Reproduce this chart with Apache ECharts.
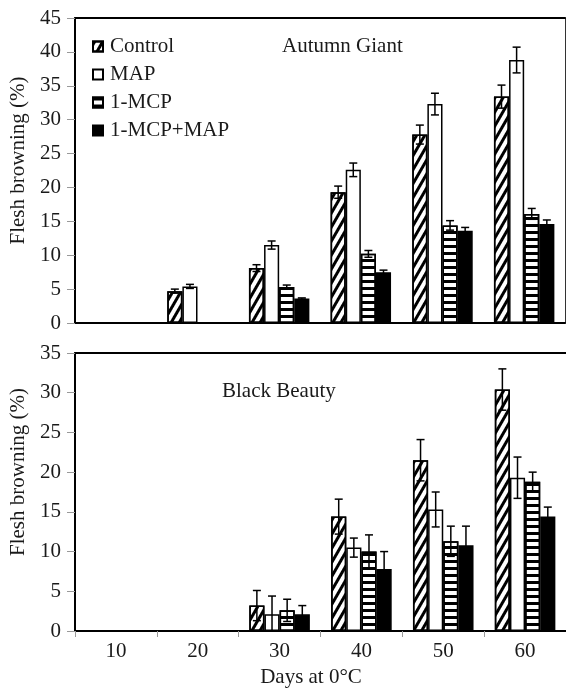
<!DOCTYPE html>
<html>
<head>
<meta charset="utf-8">
<script src="https://cdn.jsdelivr.net/npm/echarts@6/dist/echarts.min.js"></script>
<style>html,body{margin:0;padding:0;background:#fff;overflow:hidden;}#c{width:566px;height:689px;}</style>
</head>
<body>
<div id="c"></div>
<script>
// ---- data ----
const categories = ['10', '20', '30', '40', '50', '60'];
const seriesNames = ['Control', 'MAP', '1-MCP', '1-MCP+MAP'];

// Autumn Giant (top panel)
const agControl = ['-', 4.7, 8.1, 19.3, 27.8, 33.4];
const agMAP     = ['-', 5.4, 11.5, 22.6, 32.3, 38.8];
const agMCP     = ['-', '-', 5.3, 10.2, 14.4, 16.1];
const agMCPMAP  = ['-', '-', 3.6, 7.5, 13.6, 14.6];
const agControlErr = ['-', 0.3, 0.5, 0.9, 1.4, 1.7];
const agMAPErr     = ['-', 0.3, 0.6, 1.0, 1.6, 1.9];
const agMCPErr     = ['-', '-', 0.3, 0.5, 0.7, 0.8];
const agMCPMAPErr  = ['-', '-', 0.1, 0.3, 0.5, 0.6];

// Black Beauty (bottom panel)
const bbControl = ['-', '-', 3.2, 14.4, 21.5, 30.4];
const bbMAP     = ['-', '-', 2.1, 10.5, 15.3, 19.3];
const bbMCP     = ['-', '-', 2.6, 10.0, 11.3, 18.8];
const bbMCPMAP  = ['-', '-', 2.1, 7.8, 10.8, 14.4];
const bbControlErr = ['-', '-', 1.9, 2.2, 2.6, 2.6];
const bbMAPErr     = ['-', '-', 2.3, 1.2, 2.2, 2.6];
const bbMCPErr     = ['-', '-', 1.4, 2.1, 1.9, 1.2];
const bbMCPMAPErr  = ['-', '-', 1.1, 2.2, 2.4, 1.2];

const topTicks = {min: 0, max: 45, interval: 5};
const botTicks = {min: 0, max: 35, interval: 5};

// ---- styles ----
const FONT = "'Liberation Serif', 'Times New Roman', serif";
const FS = 21;
const TXT = '#1a1a1a';
const CAT_GAP = 0.26;

const styles = [
  {color: '#fff', borderColor: '#000', borderWidth: 1.5,
   decal: {symbol: 'rect', symbolSize: 1, dashArrayX: [1, 0], dashArrayY: [3, 3.5], rotation: -Math.PI / 3, color: '#000'}},
  {color: '#fff', borderColor: '#000', borderWidth: 1.5},
  {color: '#fff', borderColor: '#000', borderWidth: 1.5,
   decal: {symbol: 'rect', symbolSize: 1, dashArrayX: [1, 0], dashArrayY: [3, 4], rotation: 0, color: '#000'}},
  {color: '#000', borderColor: '#000', borderWidth: 1.5}
];

function barSeries(name, idx, data, g) {
  return {
    name: name, type: 'bar', xAxisIndex: g * 2, yAxisIndex: g * 2,
    data: data, barGap: '0%', barCategoryGap: (CAT_GAP * 100) + '%',
    itemStyle: styles[idx], emphasis: {disabled: true}, animation: false
  };
}

function errSeries(idx, vals, errs, g) {
  const d = [];
  vals.forEach((v, i) => { if (v !== '-') d.push([i, v, errs[i]]); });
  return {
    type: 'custom', xAxisIndex: g * 2, yAxisIndex: g * 2, z: 10, animation: false,
    data: d,
    renderItem: function (params, api) {
      const ci = api.value(0), v = api.value(1), e = api.value(2);
      const band = api.size([1, 0])[0];
      const bw = band * (1 - CAT_GAP) / 4;
      const c = api.coord([ci, v]);
      const x = c[0] + (idx - 1.5) * bw;
      const yt = api.coord([ci, v + e])[1];
      const yb = api.coord([ci, Math.max(0, v - e)])[1];
      const cap = 4;
      const st = {stroke: '#000', lineWidth: 1.5};
      return {type: 'group', children: [
        {type: 'line', shape: {x1: x, y1: yt, x2: x, y2: yb}, style: st},
        {type: 'line', shape: {x1: x - cap, y1: yt, x2: x + cap, y2: yt}, style: st},
        {type: 'line', shape: {x1: x - cap, y1: yb, x2: x + cap, y2: yb}, style: st}
      ]};
    }
  };
}

const axisLabelStyle = {fontFamily: FONT, fontSize: FS, color: TXT};
function yAxisMain(g, t, padShift) {
  return {
    type: 'value', gridIndex: g, min: t.min, max: t.max, interval: t.interval,
    name: 'Flesh browning (%)', nameLocation: 'middle', nameGap: 46,
    nameTextStyle: {fontFamily: FONT, fontSize: FS, color: TXT, padding: [0, 0, 0, padShift]},
    axisLine: {show: true, lineStyle: {color: '#000', width: 2}},
    axisTick: {show: true, length: 8, lineStyle: {color: '#999', width: 1}},
    axisLabel: Object.assign({margin: 14}, axisLabelStyle),
    splitLine: {show: false}
  };
}
function frameY(g, show) {
  return {
    type: 'value', gridIndex: g, position: 'right', min: 0, max: 1,
    axisLine: {show: show, onZero: false, lineStyle: {color: '#333', width: 1}},
    axisTick: {show: false}, axisLabel: {show: false}, splitLine: {show: false}
  };
}
function frameX(g) {
  return {
    type: 'value', gridIndex: g, position: 'top', min: 0, max: 1,
    axisLine: {show: true, onZero: false, lineStyle: {color: '#000', width: 2}},
    axisTick: {show: false}, axisLabel: {show: false}, splitLine: {show: false}
  };
}

const titleStyle = {fontFamily: FONT, fontSize: FS, color: TXT, fontWeight: 'normal'};

const option = {
  backgroundColor: '#fff',
  animation: false,
  title: [
    {text: 'Autumn Giant', left: 282, top: 36, padding: 0, textStyle: titleStyle},
    {text: 'Black Beauty', left: 222, top: 381, padding: 0, textStyle: titleStyle},
    {text: 'Days at 0°C', left: 311, top: 667, padding: 0, textAlign: 'center', textStyle: titleStyle}
  ],
  legend: {
    orient: 'vertical', left: 92, top: 36, padding: 0, itemGap: 7,
    itemWidth: 10, itemHeight: 10, icon: 'rect',
    data: seriesNames,
    textStyle: {fontFamily: FONT, fontSize: FS, color: TXT, padding: [0, 0, 0, 2]}
  },
  grid: [
    {left: 71, top: 18, width: 494, height: 305},
    {left: 71, top: 353, width: 500, height: 278}
  ],
  xAxis: [
    {type: 'category', gridIndex: 0, data: categories,
     axisLine: {lineStyle: {color: '#000', width: 2}}, axisTick: {show: false}, axisLabel: {show: false}},
    frameX(0),
    {type: 'category', gridIndex: 1, data: categories,
     axisLine: {lineStyle: {color: '#000', width: 2}},
     axisTick: {show: true, length: 6, lineStyle: {color: '#999', width: 1}},
     axisLabel: Object.assign({margin: 10}, axisLabelStyle)},
    frameX(1)
  ],
  yAxis: [
    yAxisMain(0, topTicks, 20),
    frameY(0, true),
    yAxisMain(1, botTicks, 40),
    frameY(1, false)
  ],
  series: [
    barSeries(seriesNames[0], 0, agControl, 0),
    barSeries(seriesNames[1], 1, agMAP, 0),
    barSeries(seriesNames[2], 2, agMCP, 0),
    barSeries(seriesNames[3], 3, agMCPMAP, 0),
    errSeries(0, agControl, agControlErr, 0),
    errSeries(1, agMAP, agMAPErr, 0),
    errSeries(2, agMCP, agMCPErr, 0),
    errSeries(3, agMCPMAP, agMCPMAPErr, 0),
    barSeries(seriesNames[0], 0, bbControl, 1),
    barSeries(seriesNames[1], 1, bbMAP, 1),
    barSeries(seriesNames[2], 2, bbMCP, 1),
    barSeries(seriesNames[3], 3, bbMCPMAP, 1),
    errSeries(0, bbControl, bbControlErr, 1),
    errSeries(1, bbMAP, bbMAPErr, 1),
    errSeries(2, bbMCP, bbMCPErr, 1),
    errSeries(3, bbMCPMAP, bbMCPMAPErr, 1)
  ]
};

const chart = echarts.init(document.getElementById('c'), null, {renderer: 'canvas'});
chart.setOption(option);
</script>
</body>
</html>
